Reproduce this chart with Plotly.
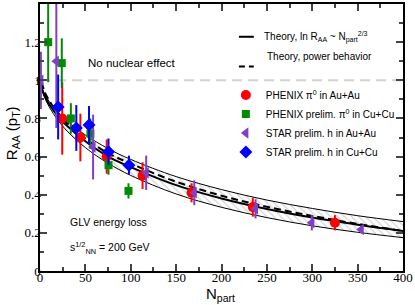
import plotly.graph_objects as go

# ---------------- data ----------------
phenix_auau_n = [24.5, 44.5, 73.5, 113, 167, 234.5, 325]
phenix_auau_r = [0.80, 0.70, 0.60, 0.50, 0.41, 0.335, 0.253]
phenix_auau_err = [0.19, 0.125, 0.09, 0.07, 0.05, 0.05, 0.04]

phenix_cucu_n = [9, 24, 34, 55.5, 75.5, 97.5]
phenix_cucu_r = [1.20, 1.09, 0.80, 0.72, 0.555, 0.42]
phenix_cucu_err = [0.21, 0.13, 0.08, 0.08, 0.05, 0.04]

star_auau_n = [1, 18, 58.5, 117, 170, 237.5, 299.5, 354]
star_auau_r = [1.0, 1.10, 0.65, 0.515, 0.41, 0.326, 0.253, 0.218]
star_auau_err = [0.15, 0.35, 0.17, 0.09, 0.065, 0.05, 0.04, 0.02]

star_cucu_n = [20, 40, 54, 75.5, 98]
star_cucu_r = [0.86, 0.75, 0.765, 0.625, 0.555]
star_cucu_err = [0.17, 0.12, 0.10, 0.07, 0.05]

theory_n = [0, 1, 2.5, 5, 10, 20, 30, 50, 75, 100, 150, 200, 250, 300, 350, 400]
theory_solid = [1.0, 0.972, 0.949, 0.92, 0.876, 0.81, 0.76, 0.68, 0.60, 0.545, 0.45, 0.38, 0.325, 0.28, 0.243, 0.21]
theory_upper = [1.0, 0.977, 0.956, 0.93, 0.89, 0.832, 0.786, 0.713, 0.642, 0.585, 0.495, 0.427, 0.372, 0.328, 0.290, 0.259]
theory_lower = [1.0, 0.968, 0.943, 0.910, 0.862, 0.789, 0.733, 0.647, 0.565, 0.501, 0.404, 0.334, 0.280, 0.237, 0.203, 0.175]

power_n = [2, 5, 10, 20, 30, 50, 75, 100, 150, 200, 250, 300, 350, 400]
power_r = [0.99, 0.94, 0.895, 0.825, 0.775, 0.695, 0.618, 0.563, 0.468, 0.395, 0.337, 0.289, 0.247, 0.21]

x_ticks = [0, 50, 100, 150, 200, 250, 300, 350, 400]
y_ticks = [0, 0.2, 0.4, 0.6, 0.8, 1.0, 1.2]
y_ticktext = ["0", "0.2", "0.4", "0.6", "0.8", "1", "1.2"]

SANS = "Liberation Sans, Arial, sans-serif"
SERIF = "Liberation Serif, Times New Roman, serif"

fig = go.Figure()

# theory band (hatched)
fig.add_trace(go.Scatter(x=theory_n, y=theory_lower, mode="lines", line=dict(color="black", width=1, shape="spline"),
                         showlegend=False, hoverinfo="skip"))
fig.add_trace(go.Scatter(x=theory_n, y=theory_upper, mode="lines", line=dict(color="black", width=1, shape="spline"),
                         fill="tonexty", fillcolor="rgba(0,0,0,0)",
                         fillpattern=dict(shape="\\", fgcolor="#aaaaaa", bgcolor="white", size=5, solidity=0.25),
                         showlegend=False, hoverinfo="skip"))
fig.add_trace(go.Scatter(x=theory_n, y=theory_solid, mode="lines", line=dict(color="black", width=2, shape="spline"),
                         showlegend=False))
fig.add_trace(go.Scatter(x=power_n, y=power_r, mode="lines",
                         line=dict(color="black", width=2, dash="7px,4px", shape="spline"), showlegend=False))

def data_trace(n, r, e, color, symbol, size, name, clip=True):
    return go.Scatter(x=n, y=r, mode="markers", name=name, legend="legend2",
                      marker=dict(color=color, symbol=symbol, size=size, line=dict(width=0)),
                      error_y=dict(type="data", array=e, visible=True, color=color, thickness=2, width=0),
                      cliponaxis=clip)

fig.add_trace(data_trace(phenix_auau_n, phenix_auau_r, phenix_auau_err, "#ff0000", "circle", 10,
                         "PHENIX π<sup>0</sup> in Au+Au"))
fig.add_trace(data_trace(phenix_cucu_n, phenix_cucu_r, phenix_cucu_err, "#008c00", "square", 8,
                         "PHENIX prelim. π<sup>0</sup> in Cu+Cu"))
fig.add_trace(data_trace(star_auau_n, star_auau_r, star_auau_err, "#7f3fc8", "triangle-left", 10,
                         "STAR prelim. h in Au+Au", clip=False))
fig.add_trace(data_trace(star_cucu_n, star_cucu_r, star_cucu_err, "#0000ff", "diamond", 10,
                         "STAR prelim. h in Cu+Cu"))

# no nuclear effect line
fig.add_shape(type="line", xref="x", yref="y", x0=0, x1=400, y0=1, y1=1,
              line=dict(color="#d3d3d3", width=2, dash="10px,6px"), layer="below")

# theory legend (manual)
fig.add_shape(type="line", xref="paper", yref="paper", x0=0.548, x1=0.589, y0=0.8773, y1=0.8773,
              line=dict(color="black", width=2))
fig.add_shape(type="line", xref="paper", yref="paper", x0=0.548, x1=0.589, y0=0.7658, y1=0.7658,
              line=dict(color="black", width=2, dash="6px,4px"))

annotations = [
    dict(text="Theory, ln R<sub>AA</sub> ~ N<sub>part</sub><sup>2/3</sup>", x=0.611, y=0.8773,
         xanchor="left", yanchor="middle", font=dict(size=10, family=SANS)),
    dict(text="Theory, power behavior", x=0.619, y=0.803,
         xanchor="left", yanchor="middle", font=dict(size=10, family=SANS)),
    dict(text="No nuclear effect", x=0.126, y=0.7807, xanchor="left", yanchor="middle",
         font=dict(size=11.5, family=SANS)),
    dict(text="GLV energy loss", x=0.0767, y=0.182, xanchor="left", yanchor="middle",
         font=dict(size=10.5, family=SANS)),
    dict(text="s<sup>1/2</sup><sub>NN</sub> = 200 GeV", x=0.0767, y=0.0855, xanchor="left", yanchor="middle",
         font=dict(size=10.5, family=SANS)),
    dict(text="N<sub>part</sub>", x=0.4986, y=-0.0892, xanchor="center", yanchor="middle",
         font=dict(size=15, family=SANS)),
    dict(text="R<sub>AA</sub> (p<sub>T</sub>)", x=-0.0767, y=0.5167, xanchor="center", yanchor="middle",
         textangle=-90, font=dict(size=15, family=SANS)),
]
for a in annotations:
    a.update(xref="paper", yref="paper", showarrow=False)

fig.update_layout(
    width=415, height=305,
    margin=dict(l=40, r=10, t=2, b=34),
    plot_bgcolor="white", paper_bgcolor="white",
    showlegend=True,
    legend2=dict(x=0.512, y=0.7136, xanchor="left", yanchor="top", bgcolor="rgba(0,0,0,0)",
                 font=dict(size=10, family=SANS, color="black"), itemwidth=30, tracegroupgap=0),
    annotations=annotations,
    font=dict(family=SANS, color="black"),
)
fig.update_xaxes(range=[0, 400], tickvals=x_ticks, ticks="inside", ticklen=7, tickwidth=1.5,
                 showline=True, linecolor="black", linewidth=1.5, mirror="ticks", showgrid=False, zeroline=False,
                 tickfont=dict(family=SERIF, size=13), ticklabelstandoff=-6,
                 minor=dict(ticks="inside", ticklen=4, dtick=25, tick0=0, tickwidth=1.5, showgrid=False))
fig.update_yaxes(range=[0, 1.4], tickvals=y_ticks, ticktext=y_ticktext, ticks="inside", ticklen=7, tickwidth=1.5,
                 showline=True, linecolor="black", linewidth=1.5, mirror="ticks", showgrid=False, zeroline=False,
                 tickfont=dict(family=SERIF, size=13), ticklabelstandoff=-5,
                 minor=dict(ticks="inside", ticklen=4, dtick=0.1, tick0=0, tickwidth=1.5, showgrid=False))

fig.write_html("out.html", config={"displayModeBar": False},
               post_script="document.body.style.margin='0';document.body.style.overflow='hidden';")
